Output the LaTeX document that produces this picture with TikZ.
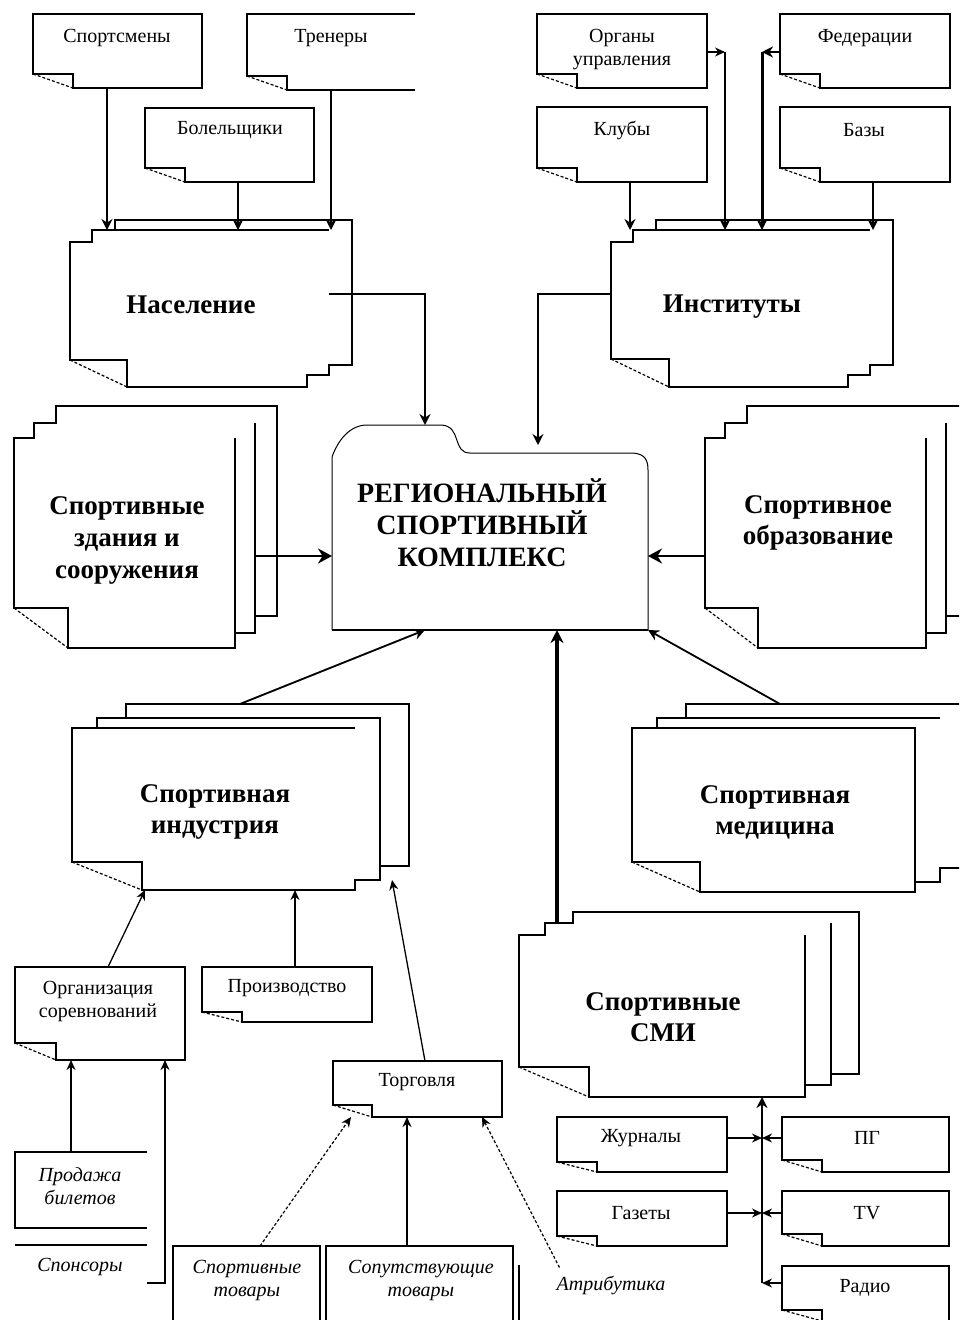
\documentclass[tikz,border=0pt]{standalone}
\usepackage{fontspec}
\setmainfont{Liberation Serif}
\usetikzlibrary{arrows.meta,calc}

\tikzset{
  ghost/.style={rectangle, inner sep=0pt, outer sep=0pt, draw=none},
  pageline/.style={line width=1.2pt, line join=miter},
  small/.style={font=\fontsize{20}{23}\selectfont, align=center, inner sep=0pt},
  smallit/.style={font=\fontsize{20}{23}\selectfont\itshape, align=center, inner sep=0pt},
  big/.style={font=\fontsize{27}{31}\selectfont\bfseries, align=center, inner sep=0pt},
  bigc/.style={font=\fontsize{28}{32}\selectfont\bfseries, align=center, inner sep=0pt},
  arr/.style={line width=1.8pt, -{Stealth[length=11pt,width=11pt]}},
  tarr/.style={line width=1.3pt, -{Stealth[length=10pt,width=9pt]}},
  harr/.style={line width=2.4pt, -{Stealth[length=14pt,width=15pt]}},
  darr/.style={line width=1.2pt, densely dashed, -{Stealth[length=10pt,width=9pt]}},
}

% small note box with folded lower-left corner: name x1 y1 x2 y2 foldw foldh
\newcommand\notebox[7]{%
  \node[ghost, minimum width={#4-#2}, minimum height={#5-#3}] (#1) at ({(#2+#4)/2},{(#3+#5)/2}) {};
  \draw[pageline] ($(#1.south west)+(0,-#7)$) -- (#1.north west) -- (#1.north east) -- (#1.south east)
     -- ($(#1.south west)+(#6,0)$) -- ($(#1.south west)+(#6,-#7)$) -- cycle;
  \draw[pageline, densely dashed] ($(#1.south west)+(0,-#7)$) -- ($(#1.south west)+(#6,0)$);
}

% stack of three pages: name x1 y1 x2 y2 (front page) foldw foldh ; offsets in \sdxa \sdya \sdxb \sdyb
\newcommand\stackshape[7]{%
  \node[ghost, minimum width={#4-#2}, minimum height={#5-#3}] (#1F) at ({(#2+#4)/2},{(#3+#5)/2}) {};
  \node[ghost, minimum width={#4-#2}, minimum height={#5-#3}] (#1M) at ({(#2+#4)/2+\sdxa},{(#3+#5)/2-\sdya}) {};
  \node[ghost, minimum width={#4-#2}, minimum height={#5-#3}] (#1B) at ({(#2+#4)/2+\sdxb},{(#3+#5)/2-\sdyb}) {};
  \draw[pageline] ($(#1F.south west)+(0,-#7)$) -- (#1F.north west) -- (#1M.north west |- #1F.north)
     -- (#1M.north west) -- (#1B.north west |- #1M.north) -- (#1B.north west) -- (#1B.north east)
     -- (#1B.south east) -- (#1M.south east |- #1B.south) -- (#1M.south east)
     -- (#1F.south east |- #1M.south) -- (#1F.south east)
     -- ($(#1F.south west)+(#6,0)$) -- ($(#1F.south west)+(#6,-#7)$) -- cycle;
  \draw[pageline, densely dashed] ($(#1F.south west)+(0,-#7)$) -- ($(#1F.south west)+(#6,0)$);
}

\begin{document}
\begin{tikzpicture}[x=1pt,y=-1pt]
\useasboundingbox (0,0) rectangle (959,1320);
\clip (0,0) rectangle (959,1320);

% ---------------- top left: population ----------------
\notebox{sport}{33}{14}{202}{88}{40}{14}
\node[small] (tsport) at (117,38) {Спортсмены};
\node[ghost, minimum width=168, minimum height=76] (tren) at (331,52) {};
\draw[pageline] (tren.south east) -- ($(tren.south west)+(40,0)$) -- ($(tren.south west)+(40,-14)$)
   -- ($(tren.south west)+(0,-14)$) -- (tren.north west) -- (tren.north east);
\draw[pageline, densely dashed] ($(tren.south west)+(0,-14)$) -- ($(tren.south west)+(40,0)$);
\node[small] (ttren) at (331,38) {Тренеры};
\notebox{bol}{145}{108}{314}{182}{40}{14}
\node[small] (tbol) at (230,130) {Болельщики};

\def\sdxa{22}\def\sdya{12}\def\sdxb{45}\def\sdyb{22}
\stackshape{nas}{70}{242}{307}{387}{57}{27}
\draw[pageline] (nasM.north west) -- (nasM.north east);
\node[big] (tnas) at (191,305) {Население};

\draw[arr] (sport.south -| 107,0) -- (nasM.north -| 107,0);
\draw[arr] (bol.south -| 238,0) -- (nasM.north -| 238,0);
\draw[arr] (tren.south -| 331,0) -- (nasM.north -| 331,0);

% ---------------- top right: institutes ----------------
\notebox{org}{537}{14}{707}{88}{40}{14}
\node[small] (torgu) at (622,50) {Органы\\управления};
\notebox{fed}{780}{14}{950}{88}{40}{14}
\node[small] (tfed) at (865,38) {Федерации};
\notebox{klub}{537}{107}{707}{182}{40}{14}
\node[small] (tklub) at (622,130) {Клубы};
\notebox{baz}{780}{107}{950}{182}{40}{14}
\node[small] (tbaz) at (864,130) {Базы};

\stackshape{inst}{611}{242}{848}{387}{58}{28}
\draw[pageline] (instM.north west) -- (instM.north east);
\node[big] (tinst) at (732,307) {Институты};

\coordinate (orgc) at (725,52);
\coordinate (fedc) at (762,52);
\draw[tarr] (org.east |- orgc) -- (orgc);
\draw[arr] (orgc) -- (instM.north -| orgc);
\draw[line width=2.4pt, -{Stealth[length=11pt,width=11pt]}] (fed.west |- fedc) -- (fedc);
\draw[line width=3pt, -{Stealth[length=11pt,width=11pt]}] (fedc) -- (instM.north -| fedc);
\draw[arr] (klub.south -| 630,0) -- (instM.north -| 630,0);
\draw[arr] (baz.south -| 873,0) -- (instM.north -| 873,0);

% ---------------- central complex ----------------
\node[ghost, minimum width=316, minimum height=177] (rsc) at (490,541.5) {};
\draw[line width=1pt] (rsc.south west) -- (332,457) .. controls (338,440) and (350,425) .. (367,425)
   -- (442,425) .. controls (462,427) and (452,453) .. (470,453) -- (633,453)
   .. controls (645,454) and (648,460) .. (648,470) -- (rsc.south east);
\draw[line width=1.8pt] (rsc.south west) -- (rsc.south east);
\node[bigc] (trsc) at (482,523) {РЕГИОНАЛЬНЫЙ\\СПОРТИВНЫЙ\\КОМПЛЕКС};
\coordinate (tabtop) at (425,425);
\coordinate (instin) at (538,445);

\draw[arr] (nasM.east |- 0,294) -| (tabtop);
\draw[arr] (instF.west |- 0,294) -| (instin);

% ---------------- buildings ----------------
\def\sdxa{20}\def\sdya{15}\def\sdxb{42}\def\sdyb{32}
\stackshape{zd}{14}{438}{235}{648}{54}{40}
\draw[pageline] (zdF.north east) -- (zdF.south east);
\draw[pageline] (zdM.north east) -- (zdM.south east);
\node[big, font=\fontsize{27}{32}\selectfont\bfseries] (tzd) at (127,540) {Спортивные\\здания и\\сооружения};
\draw[harr] (zdM.east |- 0,556) -- (rsc.west |- 0,556);

% ---------------- education ----------------
\stackshape{ob}{705}{438}{926}{648}{53}{40}
\draw[pageline] (obF.north east) -- (obF.south east);
\draw[pageline] (obM.north east) -- (obM.south east);
\node[big] (tob) at (818,523) {Спортивное\\образование};
\draw[harr] (obF.west |- 0,556) -- (rsc.east |- 0,556);

% ---------------- industry ----------------
\def\sdxa{25}\def\sdya{10}\def\sdxb{54}\def\sdyb{24}
\stackshape{ind}{72}{728}{355}{890}{70}{28}
\draw[pageline] (indF.north west) -- (indF.north east);
\draw[pageline] (indM.north west) -- (indM.north east) -- (indM.south east);
\node[big] (tind) at (215,812) {Спортивная\\индустрия};
\draw[arr] (indB.north -| 240,0) -- (rsc.south -| 425,0);

% ---------------- medicine ----------------
\stackshape{med}{632}{728}{915}{892}{68}{30}
\draw[pageline] (medF.north west) -- (medF.north east) -- (medF.south east);
\draw[pageline] (medM.north west) -- (medM.north east);
\node[big] (tmed) at (775,812) {Спортивная\\медицина};
\draw[arr] (medB.north -| 780,0) -- (rsc.south east);

% ---------------- media ----------------
\def\sdxa{26}\def\sdya{12}\def\sdxb{54}\def\sdyb{23}
\stackshape{smi}{519}{935}{805}{1097}{70}{30}
\draw[pageline] (smiF.north east) -- (smiF.south east);
\draw[pageline] (smiM.north east) -- (smiM.south east);
\node[big] (tsmi) at (663,1017) {Спортивные\\СМИ};
\draw[line width=3.2pt, -{Stealth[length=13pt,width=13pt]}] (smiM.north -| 557,0) -- (rsc.south -| 557,0);

% ---------------- industry sub-items ----------------
\notebox{orgs}{15}{967}{185}{1060}{41}{17}
\node[small] (torgs) at (98,1001) {Организация\\соревнований};
\notebox{proiz}{202}{967}{372}{1022}{40}{10}
\node[small] (tproiz) at (287,988) {Производство};
\notebox{torg}{333}{1061}{502}{1117}{39}{12}
\node[small] (ttorg) at (417,1082) {Торговля};

\draw[tarr] (orgs.north -| 108,0) -- (indF.south -| 145,0);
\draw[tarr] (proiz.north -| 295,0) -- (indF.south -| 295,0);
\draw[tarr] (torg.north -| 425,0) -- (indM.south -| 392,0);

\node[ghost, minimum width=132, minimum height=76] (prod) at (81,1190) {};
\draw[pageline] (prod.north east) -- (prod.north west) -- (prod.south west) -- (prod.south east);
\node[smallit] (tprod) at (80,1186) {Продажа\\билетов};
\node[ghost, minimum width=132, minimum height=45] (spons) at (81,1267.5) {};
\draw[pageline] (spons.north west) -- (spons.north east);
\node[smallit] (tspons) at (80,1267) {Спонсоры};
\draw[tarr] (prod.north -| 71,0) -- (orgs.south -| 71,0);
\draw[tarr] (spons.east |- 0,1283) -| (orgs.south -| 165,0);

\node[ghost, draw, pageline, minimum width=147, minimum height=90] (sptov) at (246.5,1291) {};
\node[smallit] (tsptov) at (247,1280) {Спортивные\\товары};
\node[ghost, draw, pageline, minimum width=187, minimum height=90] (soput) at (419.5,1291) {};
\node[smallit] (tsoput) at (421,1280) {Сопутствующие\\товары};
\draw[pageline] ($(soput.north east)+(6,19)$) -- ($(soput.north east)+(6,90)$);
\node[smallit] (attr) at (611,1285) {Атрибутика};

\draw[darr] (sptov.north -| 260,0) -- (torg.south -| 351,0);
\draw[tarr] (soput.north -| 407,0) -- (torg.south -| 407,0);
\draw[darr] ($(attr.north west)+(3,-8)$) -- (torg.south -| 482,0);

% ---------------- media sub-items ----------------
\notebox{zhur}{557}{1117}{727}{1172}{40}{10}
\node[small] (tzhur) at (641,1138) {Журналы};
\notebox{gaz}{557}{1191}{727}{1246}{40}{10}
\node[small] (tgaz) at (641,1213) {Газеты};
\notebox{pg}{782}{1117}{949}{1172}{40}{12}
\node[small] (tpg) at (867,1138) {ПГ};
\notebox{tv}{782}{1191}{949}{1246}{40}{12}
\node[small] (ttv) at (867,1213) {TV};
\notebox{radio}{782}{1266}{949}{1321}{40}{11}
\node[small] (tradio) at (865,1288) {Радио};

\coordinate (busb) at (762,1283);
\coordinate (bj) at (762,1138);
\coordinate (bg) at (762,1213);
\draw[arr] (busb) -- (smiF.south -| busb);
\draw[tarr] (zhur.east |- bj) -- (bj);
\draw[tarr] (pg.west |- bj) -- (bj);
\draw[tarr] (gaz.east |- bg) -- (bg);
\draw[tarr] (tv.west |- bg) -- (bg);
\draw[tarr] (radio.west |- busb) -- (busb);

\end{tikzpicture}
\end{document}
